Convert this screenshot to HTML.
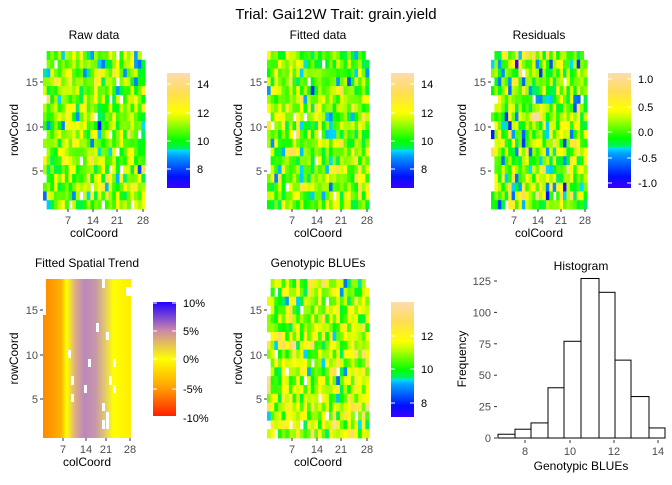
<!DOCTYPE html>
<html><head><meta charset="utf-8"><style>
html,body{margin:0;padding:0;background:#fff}
svg text{font-family:"Liberation Sans",sans-serif}
</style></head><body>
<svg id="s" width="672" height="480" xmlns="http://www.w3.org/2000/svg">
<defs>
<linearGradient id="gy" x1="0" y1="1" x2="0" y2="0">
<stop offset="0" stop-color="#3a00ff"/><stop offset="0.1" stop-color="#0010ff"/><stop offset="0.28" stop-color="#00a0ff"/><stop offset="0.33" stop-color="#00e0ff"/><stop offset="0.335" stop-color="#00f070"/><stop offset="0.41" stop-color="#00ff00"/><stop offset="0.6" stop-color="#ccff00"/><stop offset="0.66" stop-color="#ffff00"/><stop offset="0.83" stop-color="#ffdd55"/><stop offset="1" stop-color="#fddcb0"/>
</linearGradient>
<linearGradient id="gy2" x1="0" y1="1" x2="0" y2="0">
<stop offset="0" stop-color="#3a00ff"/><stop offset="0.1" stop-color="#0010ff"/><stop offset="0.3" stop-color="#00a0ff"/><stop offset="0.35" stop-color="#00e0ff"/><stop offset="0.355" stop-color="#00f070"/><stop offset="0.43" stop-color="#00ff00"/><stop offset="0.62" stop-color="#ccff00"/><stop offset="0.68" stop-color="#ffff00"/><stop offset="0.84" stop-color="#ffdd55"/><stop offset="1" stop-color="#fddcb0"/>
</linearGradient>
<linearGradient id="gt" x1="0" y1="1" x2="0" y2="0">
<stop offset="0" stop-color="#ff2000"/><stop offset="0.25" stop-color="#ffa000"/><stop offset="0.5" stop-color="#ffff00"/><stop offset="0.75" stop-color="#cc88aa"/><stop offset="1" stop-color="#2200ff"/>
</linearGradient>
<linearGradient id="gs" x1="0" y1="0" x2="1" y2="0">
<stop offset="0" stop-color="#ff8800"/><stop offset="0.2" stop-color="#ffb000"/><stop offset="0.27" stop-color="#ffff00"/><stop offset="0.36" stop-color="#e0b080"/><stop offset="0.47" stop-color="#bb88bb"/><stop offset="0.6" stop-color="#c898a8"/><stop offset="0.72" stop-color="#e8d060"/><stop offset="0.8" stop-color="#ffff00"/><stop offset="1" stop-color="#ffee00"/>
</linearGradient>
</defs>
<text x="336" y="19" font-size="15" text-anchor="middle" fill="#000">Trial: Gai12W Trait: grain.yield</text>
<g id="g"></g>
</svg>
<script>
var g=document.getElementById('g');var h='';
var seed=12345;function rnd(){seed|=0;seed=seed+0x6D2B79F5|0;var t=Math.imul(seed^seed>>>15,1|seed);t=t+Math.imul(t^t>>>7,61|t)^t;return((t^t>>>14)>>>0)/4294967296;}
function nrm(){return Math.sqrt(-2*Math.log(rnd()+1e-9))*Math.cos(2*Math.PI*rnd());}
var stops=[[0,[58,0,255]],[0.1,[0,16,255]],[0.28,[0,160,255]],[0.33,[0,224,255]],[0.335,[0,240,112]],[0.41,[0,255,0]],[0.6,[204,255,0]],[0.66,[255,255,0]],[0.83,[255,221,85]],[1,[253,220,176]]];
function col(t){t=Math.max(0,Math.min(1,t));for(var i=1;i<stops.length;i++){if(t<=stops[i][0]){var a=stops[i-1],b=stops[i],f=(t-a[0])/(b[0]-a[0]||1);return 'rgb('+[0,1,2].map(function(k){return Math.round(a[1][k]+(b[1][k]-a[1][k])*f)}).join(',')+')';}}return 'rgb(253,220,176)';}
function txt(x,y,s,a,fill,t,rot){h+='<text x="'+x+'" y="'+y+'" font-size="'+s+'" text-anchor="'+a+'" fill="'+fill+'"'+(rot?' transform="rotate(-90 '+x+' '+y+')"':'')+'>'+t+'</text>';}
function axes(x0,x1,y0,y1,title,ticksX){
 var yt=[[15,y0+31],[10,y0+76],[5,y0+120]];
 yt.forEach(function(p){h+='<line x1="'+(x0-3)+'" x2="'+x0+'" y1="'+p[1]+'" y2="'+p[1]+'" stroke="#333"/>';txt(x0-5,p[1]+4,11,'end','#4d4d4d',p[0]);});
 ticksX.forEach(function(p){h+='<line x1="'+p[1]+'" x2="'+p[1]+'" y1="'+y1+'" y2="'+(y1+3)+'" stroke="#333"/>';txt(p[1],y1+15,11,'middle','#4d4d4d',p[0]);});
 txt((x0+x1)/2,y1+28,12,'middle','#000','colCoord');
 txt(x0-25,(y0+y1)/2,12,'middle','#000','rowCoord',1);
 txt((x0+x1)/2,y0-12,12,'middle','#000',title);
}
function heat(x0,x1,y0,y1,mean,sd,lo,hi){
 var cw=(x1-x0)/28,rh=(y1-y0)/18;
 for(var r=0;r<18;r++)for(var c=0;c<28;c++){
  var miss=rnd()<0.02||(c==0&&rnd()<0.35)||(c==27&&r<1);
  if(miss)continue;
  var v=mean+sd*nrm();var t=(v-lo)/(hi-lo);
  h+='<rect x="'+(x0+c*cw).toFixed(2)+'" y="'+(y0+r*rh).toFixed(2)+'" width="'+(cw+0.4).toFixed(2)+'" height="'+(rh+0.4).toFixed(2)+'" fill="'+col(t)+'"/>';
 }
}
function legend(x,y0,y1,grad,labels){
 h+='<rect x="'+x+'" y="'+y0+'" width="23" height="'+(y1-y0)+'" fill="url(#'+grad+')"/>';
 labels.forEach(function(p){h+='<line x1="'+x+'" x2="'+(x+4)+'" y1="'+p[1]+'" y2="'+p[1]+'" stroke="#fff"/><line x1="'+(x+19)+'" x2="'+(x+23)+'" y1="'+p[1]+'" y2="'+p[1]+'" stroke="#fff"/>';txt(x+30,p[1]+4,11,'start','#000',p[0]);});
}
var xt=function(o){return [[7,o+25],[14,o+50],[21,o+74],[28,o+100]];};
[[43,'Raw data'],[267,'Fitted data']].forEach(function(p){
 heat(p[0],p[0]+102,51,209,11.0,0.95,7,14.7);
 axes(p[0],p[0]+102,51,209,p[1],xt(p[0]));
 legend(p[0]+124,73,188,'gy',[[14,84],[12,113],[10,141],[8,169]]);
});
heat(491,587,51,209,0.05,0.38,-1.15,1.15);
axes(491,587,51,209,'Residuals',[[7,514],[14,538],[21,561],[28,585]]);
legend(608,73,188,'gy2',[['1.0',79],['0.5',107],['0.0',132],['-0.5',158],['-1.0',183]]);
heat(267,369,279,438,11.0,0.9,7.3,13.6);
axes(267,369,279,438,'Genotypic BLUEs',xt(267));
legend(391,302,417,'gy',[[12,336],[10,369],[8,403]]);
h+='<rect x="43" y="279" width="88" height="159" fill="url(#gs)"/>';
[[102,279,3,9],[126,287,5,9],[43,279,3,36],[96,323,3,9],[106,332,3,8],[68,350,3,8],[88,359,3,8],[113,359,3,8],[71,376,3,9],[109,376,3,9],[84,385,3,8],[113,385,3,8],[71,394,3,8],[102,403,3,8],[106,412,3,17],[102,420,3,9]].forEach(function(r){h+='<rect x="'+r[0]+'" y="'+r[1]+'" width="'+r[2]+'" height="'+r[3]+'" fill="#fff"/>';});
axes(43,131,279,438,'Fitted Spatial Trend',[[7,63],[14,86],[21,106],[28,130]]);
legend(153,302,416,'gt',[['10%',303],['5%',331],['0%',359],['-5%',389],['-10%',418]]);
var edges=[498,515,531,548,564,581,599,615,631,649,665],cnt=[3,7,12,40,77,127,116,62,33,8],k=(438-281)/125;
for(var i=0;i<10;i++){var hh=cnt[i]*k;h+='<rect x="'+edges[i]+'" y="'+(438-hh)+'" width="'+(edges[i+1]-edges[i])+'" height="'+hh+'" fill="#fff" stroke="#000" stroke-width="1"/>';}
[0,25,50,75,100,125].forEach(function(v){var y=438-v*k;h+='<line x1="494" x2="497" y1="'+y+'" y2="'+y+'" stroke="#333"/>';txt(491,y+4,11,'end','#4d4d4d',v);});
[[8,525],[10,570],[12,614],[14,658]].forEach(function(p){h+='<line x1="'+p[1]+'" x2="'+p[1]+'" y1="440" y2="443" stroke="#333"/>';txt(p[1],455,11,'middle','#4d4d4d',p[0]);});
txt(581,470,12,'middle','#000','Genotypic BLUEs');
txt(466,359,12,'middle','#000','Frequency',1);
txt(581,270,12,'middle','#000','Histogram');
g.innerHTML=h;
</script>
</body></html>
